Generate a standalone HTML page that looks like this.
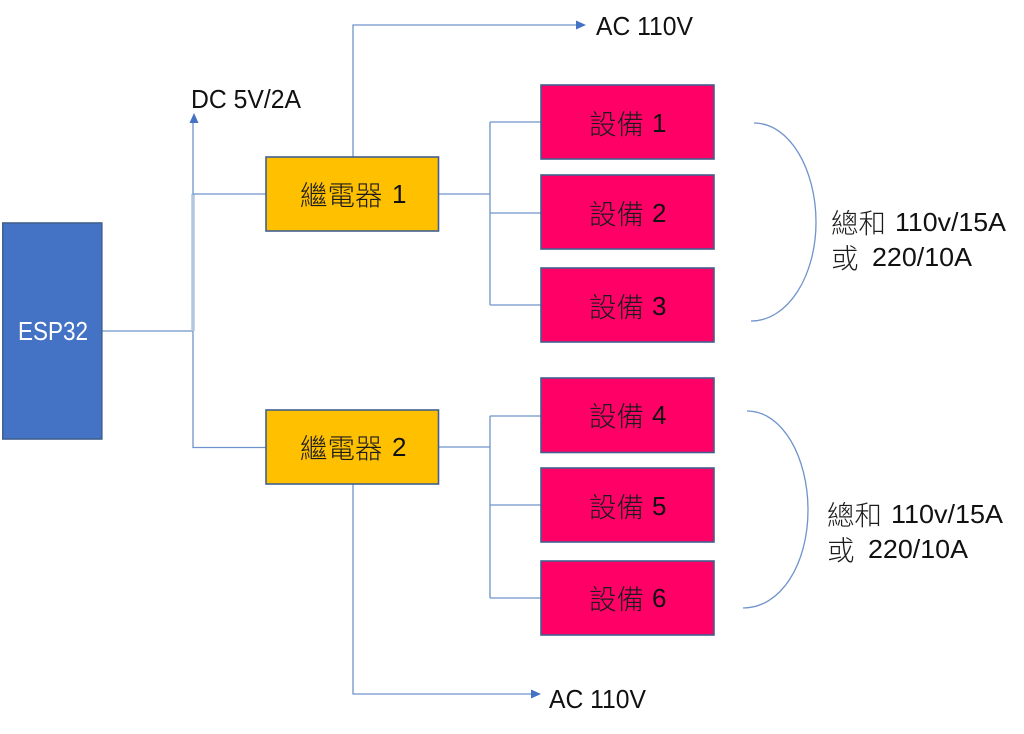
<!DOCTYPE html>
<html lang="zh-Hant">
<head>
<meta charset="utf-8">
<title>ESP32 relay diagram</title>
<style>
html,body{margin:0;padding:0;background:#fff;width:1024px;height:734px;overflow:hidden}
svg{display:block}
text{font-family:"Liberation Sans",sans-serif;font-size:26px;fill:#111}
.z{font-family:"Noto Sans CJK TC","Noto Sans CJK SC",sans-serif;font-size:27.500px;fill:#1c1c1c;font-weight:300}
.c{text-anchor:middle}
.box{stroke:#41608f;stroke-width:1.6}
.l{fill:none;stroke:#6f93cc;stroke-width:1.3}
</style>
</head>
<body>
<svg width="1024" height="734" viewBox="0 0 1024 734" xmlns="http://www.w3.org/2000/svg">
<rect width="1024" height="734" fill="#fff"/>

<!-- connectors -->
<path class="l" d="M102 331H193"/>
<path d="M193 194V331" fill="none" stroke="#b4c6e0" stroke-width="3.5"/>
<path class="l" d="M193 120V194H266"/>
<path class="l" d="M193 331V447.500H266"/>
<polygon points="194,113 189.500,123 198.500,123" fill="#4472c4"/>

<path class="l" d="M353 157V25H577"/>
<polygon points="586,25 576,20.500 576,29.500" fill="#4472c4"/>
<path class="l" d="M353 484V694H532"/>
<polygon points="541,694 531,689.500 531,698.500" fill="#4472c4"/>

<path class="l" d="M439 194H490M490 122H541M490 122V305M490 213H541M490 305H541"/>
<path class="l" d="M439 447H490M490 416H541M490 416V598M490 505H541M490 598H541"/>

<!-- arcs -->
<path class="l" d="M754 123C790 123 816 170 816 222C816 276 788 321 751 321"/>
<path class="l" d="M747 411C783 411 808 458 808 510C808 564 781 608 743 608"/>

<!-- boxes -->
<rect class="box" x="2.800" y="223" width="99" height="216" fill="#4472c4"/>
<rect class="box" x="266" y="157" width="172.500" height="74" fill="#ffc000"/>
<rect class="box" x="266" y="410" width="172.500" height="74" fill="#ffc000"/>
<rect class="box" x="541" y="85" width="173" height="74" fill="#ff0066"/>
<rect class="box" x="541" y="175" width="173" height="74" fill="#ff0066"/>
<rect class="box" x="541" y="268" width="173" height="74" fill="#ff0066"/>
<rect class="box" x="541" y="378" width="173" height="74.500" fill="#ff0066"/>
<rect class="box" x="541" y="468" width="173" height="74" fill="#ff0066"/>
<rect class="box" x="541" y="561" width="173" height="74" fill="#ff0066"/>

<!-- labels -->
<text x="18" y="340" style="fill:#fff" textLength="70" lengthAdjust="spacingAndGlyphs">ESP32</text>

<text class="z" x="300" y="205">繼電器</text><text x="392" y="203">1</text>
<text class="z" x="300" y="458">繼電器</text><text x="392" y="456">2</text>

<text class="z" x="589" y="134">設備</text><text x="652" y="132">1</text>
<text class="z" x="589" y="224">設備</text><text x="652" y="222">2</text>
<text class="z" x="589" y="317">設備</text><text x="652" y="315">3</text>
<text class="z" x="589" y="426">設備</text><text x="652" y="424">4</text>
<text class="z" x="589" y="517">設備</text><text x="652" y="515">5</text>
<text class="z" x="589" y="609">設備</text><text x="652" y="607">6</text>

<text x="191" y="108" textLength="110" lengthAdjust="spacingAndGlyphs">DC 5V/2A</text>
<text x="596" y="35" textLength="97" lengthAdjust="spacingAndGlyphs">AC 110V</text>
<text x="549" y="708" textLength="97" lengthAdjust="spacingAndGlyphs">AC 110V</text>

<text class="z" x="831" y="233">總和</text><text x="895" y="231" textLength="111" lengthAdjust="spacingAndGlyphs">110v/15A</text>
<text class="z" x="831" y="268">或</text><text x="872" y="266" textLength="100" lengthAdjust="spacingAndGlyphs">220/10A</text>
<text class="z" x="827" y="525">總和</text><text x="891" y="523" textLength="112" lengthAdjust="spacingAndGlyphs">110v/15A</text>
<text class="z" x="827" y="560">或</text><text x="868" y="558" textLength="100" lengthAdjust="spacingAndGlyphs">220/10A</text>
</svg>
</body>
</html>
